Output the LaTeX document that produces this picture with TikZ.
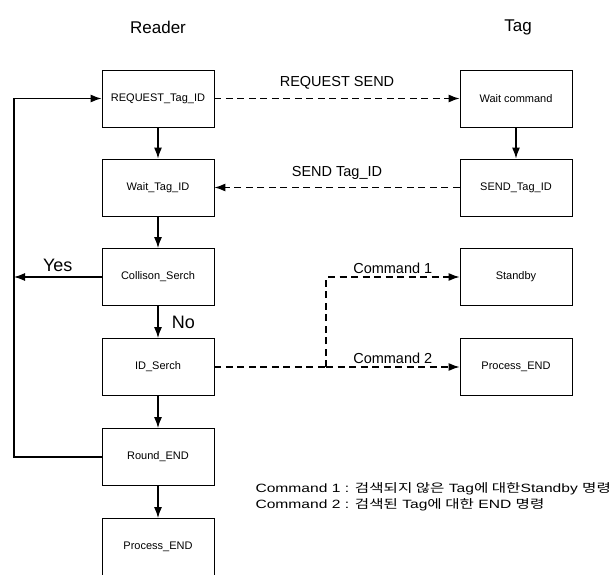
\documentclass[tikz,border=0pt]{standalone}
\usepackage{fontspec}
\setmainfont{Liberation Sans}
\newfontfamily\krfont{Noto Sans CJK KR}
\usepackage{tikz}
\usetikzlibrary{calc, arrows.meta}

\tikzset{
  blk/.style={draw, line width=0.9pt, minimum width=112pt, minimum height=57pt, font=\fontsize{11}{13}\selectfont},
  arr/.style={line width=1.2pt, -{Latex[length=11pt,width=8pt]}},
  darr/.style={arr, dash pattern=on 7pt off 4.5pt},
  lbl/.style={font=\fontsize{14.5}{17}\selectfont},
  ttl/.style={font=\fontsize{17}{20}\selectfont},
  yn/.style={font=\fontsize{18}{20}\selectfont}
}

\begin{document}
\begin{tikzpicture}[x=1pt, y=-1pt]
      \useasboundingbox (0,0) rectangle (616,575);
      \node[ttl] (reader) at (158,27) {Reader};
      \node[ttl] (tag) at (518,27) {Tag};
      % reader side
      \node[blk] (req) at (158,98.5) {REQUEST\_Tag\_ID};
      \node[blk] (waitid) at (158,187.5) {Wait\_Tag\_ID};
      \node[blk] (coll) at (158,277) {Collison\_Serch};
      \node[blk] (idser) at (158,367) {ID\_Serch};
      \node[blk] (round) at (158,457) {Round\_END};
      \node[blk] (pend) at (158,547) {Process\_END};
      % tag side
      \node[blk] (wcmd) at (516,98.5) {Wait command};
      \node[blk] (sendid) at (516,187.5) {SEND\_Tag\_ID};
      \node[blk] (stby) at (516,277) {Standby};
      \node[blk] (tend) at (516,367) {Process\_END};
      \coordinate (lx) at (14,457);
      \coordinate (jn) at (326,367);

      \draw[arr] (req) -- (waitid);
      \draw[arr] (waitid) -- (coll);
      \draw[arr] (coll) -- node[yn, right, xshift=10pt] {No} (idser);
      \draw[arr] (idser) -- (round);
      \draw[arr] (round) -- (pend);
      \draw[arr] (wcmd) -- (sendid);
      \draw[arr] (round.west) -- (round.west -| lx) |- (req.west);
      \draw[arr] (coll.west) -- node[yn, above, yshift=1pt] {Yes} (coll.west -| lx);

      \draw[darr] (req.east) -- node[lbl, above=5pt] {REQUEST SEND} (wcmd.west);
      \draw[darr] (sendid.west) -- node[lbl, above=4pt] {SEND Tag\_ID} (waitid.east);
      \draw[line width=1.2pt, dash pattern=on 7pt off 4.5pt] (idser.east) -- (jn);
      \draw[darr] (jn) -- node[lbl, above=-1pt] {Command 2} (tend.west);
      \draw[darr] (jn) |- node[lbl, above=-1pt, pos=0.75] {Command 1} (stby.west);

      \node[anchor=west] (note) at (252,497)
        {\scalebox{1.3}[1]{\fontsize{12}{16}\selectfont\begin{tabular}{@{}l@{}}
         Command 1 : {\krfont 검색되지 않은} Tag{\krfont 에 대한}Standby {\krfont 명령}\\
         Command 2 : {\krfont 검색된} Tag{\krfont 에 대한} END {\krfont 명령}
         \end{tabular}}};
  \end{tikzpicture}
\end{document}
